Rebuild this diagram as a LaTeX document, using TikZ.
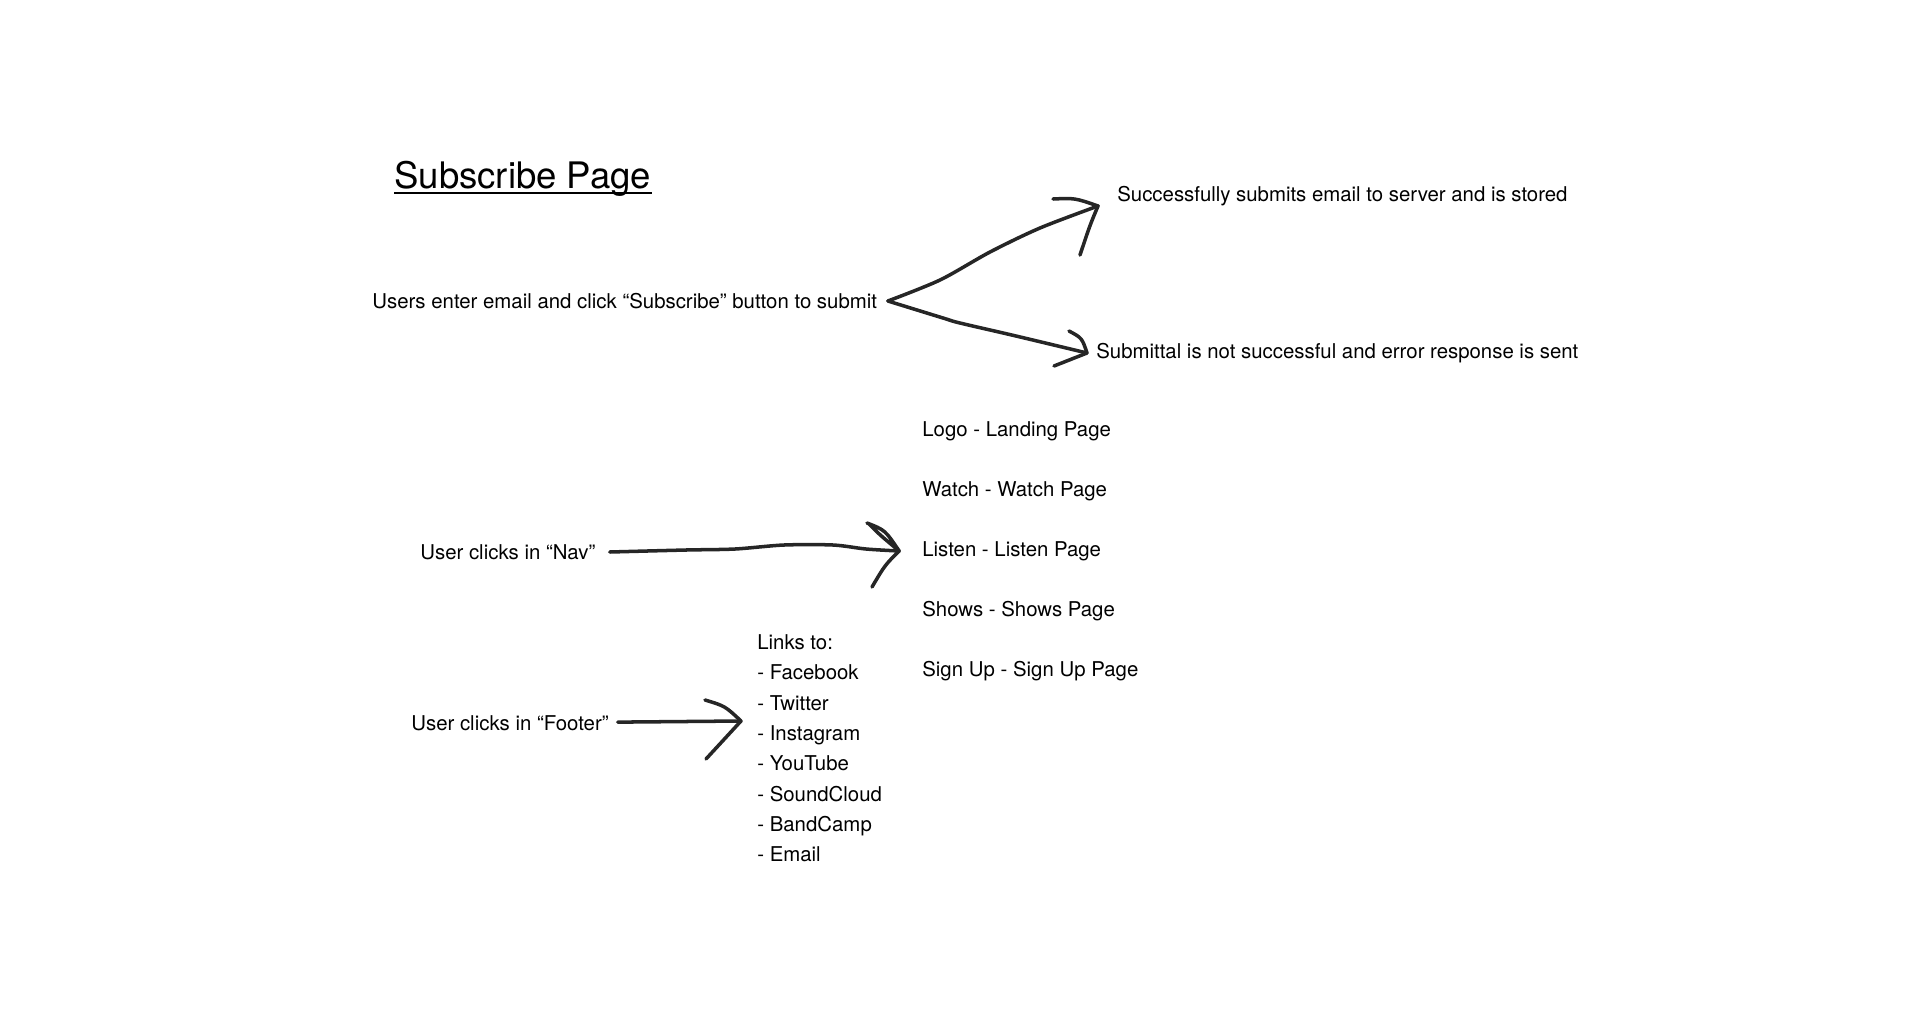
\documentclass[tikz,border=0pt]{standalone}
\usepackage{fontspec}
\setmainfont{TeX Gyre Heros}
\begin{document}
\begin{tikzpicture}[
    x=0.02cm, y=-0.02cm,
    note/.style={anchor=west, inner sep=0pt, font=\fontsize{11.6}{13}\selectfont},
    heading/.style={anchor=base west, inner sep=0pt, font=\fontsize{20.8}{24}\selectfont},
    hand/.style={draw=black!85, line width=2pt, line cap=round, line join=round}
]
    \useasboundingbox (0,0) rectangle (1920,1035);

    % title
    \node[heading] (title) at (394,188) {Subscribe Page};
    \draw[black, line width=0.9pt] ([yshift=-3pt]title.base west) -- ([yshift=-3pt]title.base east);

    % subscribe flow
    \node[note] (users) at (372,301) {Users enter email and click “Subscribe” button to submit};
    \node[note] (ok) at (1117,196) {Successfully submits email to server and is stored};
    \node[note] (fail) at (1096,353) {Submittal is not successful and error response is sent};

    \coordinate (fork) at ([xshift=6pt]users.east);
    \coordinate (okTip) at (1098,206);
    \coordinate (failTip) at (1087,353);

    \draw[hand] plot[smooth, tension=0.5] coordinates {(fork) (940,280) (990,252) (1040,228) (okTip)};
    \draw[hand] (1053,199) .. controls (1075,198) .. (okTip) .. controls (1090,225) .. (1080,255);
    \draw[hand] plot[smooth, tension=0.6] coordinates {(fork) (943,318) (960,323) (1016,336) (failTip)};
    \draw[hand] (1069,331) .. controls (1082,338) .. (failTip) -- (1054,366);

    % nav
    \node[note] (nav) at (420,552) {User clicks in “Nav”};
    \node[note] (logo) at (922,431) {Logo - Landing Page};
    \node[note] (watch) at (922,491) {Watch - Watch Page};
    \node[note] (listen) at (922,551) {Listen - Listen Page};
    \node[note] (shows) at (922,611) {Shows - Shows Page};
    \node[note] (signup) at (922,671) {Sign Up - Sign Up Page};

    \coordinate (navTip) at ([xshift=-13pt]listen.west);
    \draw[hand] plot[smooth, tension=0.5] coordinates {([xshift=8pt]nav.east) (686,550) (735,549) (784,545) (833,545) (866,549) (navTip)};
    \draw[hand] (867,523) .. controls (885,530) .. (navTip) .. controls (880,535) .. (869,524);
    \draw[hand] (navTip) .. controls (885,565) .. (872,587);

    % footer
    \node[note] (footer) at (411,723) {User clicks in “Footer”};
    \node[note, anchor=north west, align=left, font=\fontsize{11.6}{17.3}\selectfont] (links) at (757,634)
        {Links to:\\- Facebook\\- Twitter\\- Instagram\\- YouTube\\- SoundCloud\\- BandCamp\\- Email};

    \coordinate (footTip) at (741,721);
    \draw[hand] ([xshift=5pt,yshift=0.5pt]footer.east) -- (footTip);
    \draw[hand] (705,700) .. controls (725,706) .. (footTip) -- (706,759);
\end{tikzpicture}
\end{document}
